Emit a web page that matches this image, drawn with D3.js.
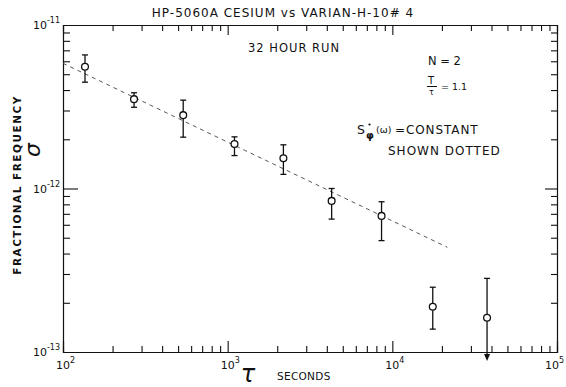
<!DOCTYPE html>
<html>
<head>
<meta charset="utf-8">
<script src="https://cdn.jsdelivr.net/npm/d3@7"></script>
<style>
  body { margin: 0; background: #fff; }
  svg { display: block; }
  text { font-family: "DejaVu Sans", sans-serif; fill: #111; }
</style>
</head>
<body>
<div id="chart"></div>
<script>
// averaging time tau (s), sigma and error bar ends
const tau     = [136, 270, 537, 1100, 2180, 4280, 8600, 17600, 37600];
const sigma   = [5.55e-12, 3.52e-12, 2.81e-12, 1.87e-12, 1.53e-12, 8.4e-13, 6.8e-13, 1.89e-13, 1.62e-13];
const errHigh = [6.56e-12, 3.85e-12, 3.47e-12, 2.07e-12, 1.85e-12, 1.0e-12, 8.3e-13, 2.49e-13, 2.82e-13];
const errLow  = [4.47e-12, 3.14e-12, 2.06e-12, 1.59e-12, 1.22e-12, 6.5e-13, 4.8e-13, 1.38e-13, 1.0e-13];
const openLow = [false, false, false, false, false, false, false, false, true]; // arrow below axis

// dotted S_phi = constant line (tau^-1/2)
const fitTau   = [100, 21600];
const fitSigma = [5.83e-12, 4.37e-13];

const xTickExp = [2, 3, 4, 5];
const yTickExp = [-11, -12, -13];

const width = 566, height = 387;
const m = { left: 63, right: 557, top: 25, bottom: 352 };

const svg = d3.select("#chart").append("svg")
    .attr("width", width)
    .attr("height", height);

const x = d3.scaleLog().domain([1e2, 1e5]).range([m.left, m.right]);
const y = d3.scaleLog().domain([1e-13, 1e-11]).range([m.bottom, m.top]);

// minor ticks 2..9 in every decade
function minors(lo, hi) {
  const out = [];
  for (let e = lo; e < hi; e++)
    for (let k = 2; k <= 9; k++) out.push(k * Math.pow(10, e));
  return out;
}
const xMinor = minors(2, 5), yMinor = minors(-13, -11);

function drawAxis(axisFn, scale, vals, size, tr) {
  svg.append("g")
      .attr("transform", tr)
      .call(axisFn(scale).tickValues(vals).tickSize(size).tickFormat(""))
      .call(g => g.selectAll("path, line").attr("stroke", "#111").attr("stroke-width", 1.1));
}

// frame with inward ticks
drawAxis(d3.axisBottom, x, xMinor, -6, `translate(0,${m.bottom})`);
drawAxis(d3.axisBottom, x, xTickExp.map(e => Math.pow(10, e)), -11, `translate(0,${m.bottom})`);
drawAxis(d3.axisTop, x, xMinor, -6, `translate(0,${m.top})`);
drawAxis(d3.axisTop, x, [1e3, 1e4], -10, `translate(0,${m.top})`);
drawAxis(d3.axisLeft, y, yMinor, -7, `translate(${m.left},0)`);
drawAxis(d3.axisLeft, y, [1e-12], -15, `translate(${m.left},0)`);
drawAxis(d3.axisRight, y, yMinor, -6, `translate(${m.right},0)`);
drawAxis(d3.axisRight, y, [1e-12], -12, `translate(${m.right},0)`);

// tick labels 10^n (last one kept inside the page)
const xl = svg.append("g").selectAll("text").data(xTickExp).join("text")
    .attr("x", d => Math.min(x(Math.pow(10, d)) - 7, width - 21))
    .attr("y", m.bottom + 17)
    .attr("font-size", 11);
xl.append("tspan").text("10");
xl.append("tspan").attr("dy", -6).attr("font-size", 8).text(d => d);

const yl = svg.append("g").selectAll("text").data(yTickExp).join("text")
    .attr("x", m.left - 3)
    .attr("y", d => y(Math.pow(10, d)) + 4)
    .attr("text-anchor", "end")
    .attr("font-size", 11);
yl.append("tspan").text("10");
yl.append("tspan").attr("dy", -6).attr("font-size", 8).text(d => d);

// dotted line
svg.append("path")
    .datum(fitTau.map((t, i) => [t, fitSigma[i]]))
    .attr("fill", "none")
    .attr("stroke", "#444")
    .attr("stroke-width", 0.9)
    .attr("stroke-dasharray", "4,4")
    .attr("d", d3.line().x(d => x(d[0])).y(d => y(d[1])));

// error bars
const pts = tau.map((t, i) => ({ t, s: sigma[i], hi: errHigh[i], lo: errLow[i], open: openLow[i] }));
const bars = svg.append("g").attr("stroke", "#111").attr("stroke-width", 1.3);
bars.selectAll(".v").data(pts).join("line")
    .attr("x1", d => x(d.t)).attr("x2", d => x(d.t))
    .attr("y1", d => y(d.hi)).attr("y2", d => d.open ? y(d.lo) + 4 : y(d.lo));
bars.selectAll(".ch").data(pts).join("line")
    .attr("x1", d => x(d.t) - 3).attr("x2", d => x(d.t) + 3)
    .attr("y1", d => y(d.hi)).attr("y2", d => y(d.hi));
bars.selectAll(".cl").data(pts.filter(d => !d.open)).join("line")
    .attr("x1", d => x(d.t) - 3).attr("x2", d => x(d.t) + 3)
    .attr("y1", d => y(d.lo)).attr("y2", d => y(d.lo));
svg.append("g").selectAll("path").data(pts.filter(d => d.open)).join("path")
    .attr("fill", "#111")
    .attr("d", d => `M${x(d.t) - 3},${y(d.lo) + 2}L${x(d.t) + 3},${y(d.lo) + 2}L${x(d.t)},${y(d.lo) + 9}Z`);

// points
svg.append("g").selectAll("circle").data(pts).join("circle")
    .attr("cx", d => x(d.t)).attr("cy", d => y(d.s))
    .attr("r", 3.4)
    .attr("fill", "#fff")
    .attr("stroke", "#111")
    .attr("stroke-width", 1.3);

// text
svg.append("text").attr("x", 283).attr("y", 17).attr("text-anchor", "middle")
    .attr("font-size", 12).attr("letter-spacing", 1)
    .text("HP-5060A  CESIUM  vs  VARIAN-H-10# 4");

svg.append("text").attr("x", 248).attr("y", 52)
    .attr("font-size", 11.5).attr("letter-spacing", 1).text("32 HOUR RUN");

svg.append("text").attr("x", 428).attr("y", 65)
    .attr("font-size", 11.5).text("N = 2");
svg.append("text").attr("x", 428).attr("y", 84).attr("font-size", 10).text("T");
svg.append("line").attr("x1", 427).attr("x2", 437).attr("y1", 86.5).attr("y2", 86.5)
    .attr("stroke", "#111").attr("stroke-width", 1);
svg.append("text").attr("x", 429).attr("y", 95).attr("font-size", 8).text("τ");
svg.append("text").attr("x", 441).attr("y", 90).attr("font-size", 9.5).text("= 1.1");

// S_phi-dot(w) = CONSTANT
svg.append("text").attr("x", 357).attr("y", 134).attr("font-size", 12.5).text("S");
svg.append("text").attr("x", 366).attr("y", 139).attr("font-size", 10).attr("font-weight", "bold").text("φ");
svg.append("circle").attr("cx", 369.5).attr("cy", 124.5).attr("r", 1.1).attr("fill", "#111");
svg.append("text").attr("x", 376).attr("y", 133).attr("font-size", 9.5).text("(ω)");
svg.append("text").attr("x", 395).attr("y", 134).attr("font-size", 12).attr("letter-spacing", 0.9)
    .text("=CONSTANT");
svg.append("text").attr("x", 388).attr("y", 155)
    .attr("font-size", 12).attr("letter-spacing", 1).text("SHOWN DOTTED");

svg.append("text")
    .attr("transform", "translate(21,185) rotate(-90)")
    .attr("text-anchor", "middle")
    .attr("font-size", 10.5).attr("font-weight", "bold").attr("letter-spacing", 1.5)
    .text("FRACTIONAL   FREQUENCY");
svg.append("text")
    .attr("transform", "translate(40,150) rotate(-90)")
    .attr("text-anchor", "middle")
    .attr("font-size", 22).attr("font-style", "italic")
    .text("σ");

svg.append("text").attr("x", 248).attr("y", 382).attr("text-anchor", "middle")
    .attr("font-size", 24).attr("font-style", "italic").text("τ");
svg.append("text").attr("x", 277).attr("y", 380)
    .attr("font-size", 10.5).attr("letter-spacing", 0.3).text("SECONDS");
</script>
</body>
</html>
